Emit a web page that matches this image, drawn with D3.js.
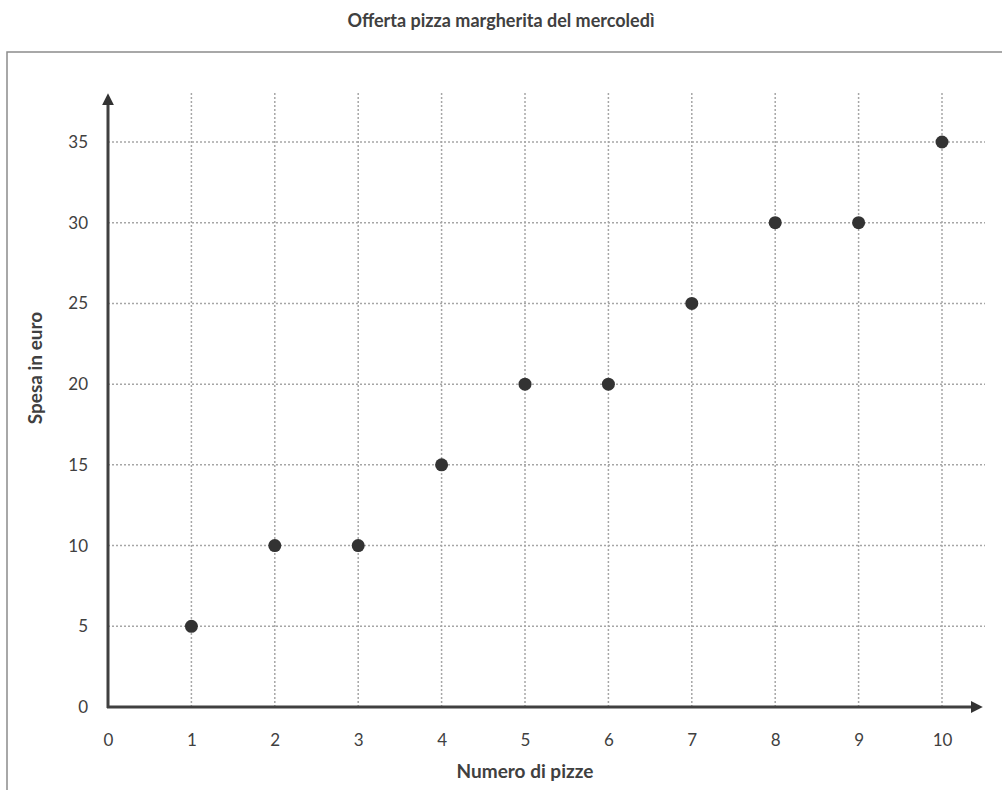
<!DOCTYPE html>
<html>
<head>
<meta charset="utf-8">
<script src="https://cdn.jsdelivr.net/npm/d3@7"></script>
<style>
  body { margin: 0; background: #fff; }
  text { font-family: Lato, sans-serif; fill: #404040; }
</style>
</head>
<body>
<svg id="canvas"></svg>
<script>
let width = 1002
let height = 790

let pizze = [1, 2, 3, 4, 5, 6, 7, 8, 9, 10]
let spesa = [5, 10, 10, 15, 20, 20, 25, 30, 30, 35]
let xTicks = [0, 1, 2, 3, 4, 5, 6, 7, 8, 9, 10]
let yTicks = [0, 5, 10, 15, 20, 25, 30, 35]

let title = 'Offerta pizza margherita del mercoledì'
let xLabel = 'Numero di pizze'
let yLabel = 'Spesa in euro'

let x0 = 108, y0 = 707

let xScale = d3.scaleLinear().domain([0, 10]).range([x0, 942])
let yScale = d3.scaleLinear().domain([0, 35]).range([y0, 142])

let canvas = d3.select('#canvas').attr('width', width).attr('height', height)

// frame (runs off the bottom/right of the page)
canvas.append('rect')
  .attr('x', 7).attr('y', 52)
  .attr('width', 1100).attr('height', 900)
  .attr('fill', 'none').attr('stroke', '#8c8c8c').attr('stroke-width', 1.5)

canvas.append('text')
  .attr('x', 501).attr('y', 27)
  .attr('text-anchor', 'middle')
  .style('font-size', '18px').style('font-weight', 700)
  .text(title)

// grid
canvas.append('g').selectAll('line')
  .data(xTicks.filter(d => d > 0))
  .enter().append('line')
  .attr('x1', d => xScale(d)).attr('x2', d => xScale(d))
  .attr('y1', 93).attr('y2', y0)
  .attr('stroke', '#a6a6a6').attr('stroke-width', 1.5).attr('stroke-dasharray', '2,2')

canvas.append('g').selectAll('line')
  .data(yTicks.filter(d => d > 0))
  .enter().append('line')
  .attr('x1', x0).attr('x2', 985)
  .attr('y1', d => yScale(d)).attr('y2', d => yScale(d))
  .attr('stroke', '#a6a6a6').attr('stroke-width', 1.5).attr('stroke-dasharray', '2,2')

// axes with arrows
let defs = canvas.append('defs')
defs.append('marker')
  .attr('id', 'arrow').attr('viewBox', '0 0 10 10')
  .attr('refX', 1).attr('refY', 5)
  .attr('markerWidth', 4).attr('markerHeight', 4)
  .attr('markerUnits', 'strokeWidth').attr('orient', 'auto')
  .append('path').attr('d', 'M0,0 L10,5 L0,10 Z').attr('fill', '#333')

canvas.append('line')
  .attr('x1', x0).attr('y1', y0 + 1).attr('x2', x0).attr('y2', 104)
  .attr('stroke', '#404040').attr('stroke-width', 3)
  .attr('marker-end', 'url(#arrow)')
canvas.append('line')
  .attr('x1', x0 - 1).attr('y1', y0).attr('x2', 972).attr('y2', y0)
  .attr('stroke', '#404040').attr('stroke-width', 3)
  .attr('marker-end', 'url(#arrow)')

// tick labels
let xAxis = d3.axisBottom(xScale).tickValues(xTicks).tickSize(0).tickPadding(27)
canvas.append('g')
  .attr('transform', `translate(0,${y0})`)
  .call(xAxis)
  .call(g => g.select('.domain').remove())
  .call(g => g.attr('font-family', null).attr('font-size', null))
  .selectAll('text').style('font-size', '17px').attr('fill', '#4a4a4a')

let yAxis = d3.axisLeft(yScale).tickValues(yTicks).tickSize(0).tickPadding(20)
canvas.append('g')
  .attr('transform', `translate(${x0},0)`)
  .call(yAxis)
  .call(g => g.select('.domain').remove())
  .call(g => g.attr('font-family', null).attr('font-size', null))
  .selectAll('text').style('font-size', '17px').attr('fill', '#4a4a4a')

// points
canvas.append('g').selectAll('circle')
  .data(pizze)
  .enter().append('circle')
  .attr('cx', d => xScale(d))
  .attr('cy', (d, i) => yScale(spesa[i]))
  .attr('r', 6.5)
  .attr('fill', '#333')

// axis titles
canvas.append('text')
  .attr('x', 525).attr('y', 778)
  .attr('text-anchor', 'middle')
  .style('font-size', '19px').style('font-weight', 700)
  .text(xLabel)

canvas.append('text')
  .attr('transform', 'translate(42,368) rotate(-90)')
  .attr('text-anchor', 'middle')
  .style('font-size', '19px').style('font-weight', 700)
  .text(yLabel)
</script>
</body>
</html>
